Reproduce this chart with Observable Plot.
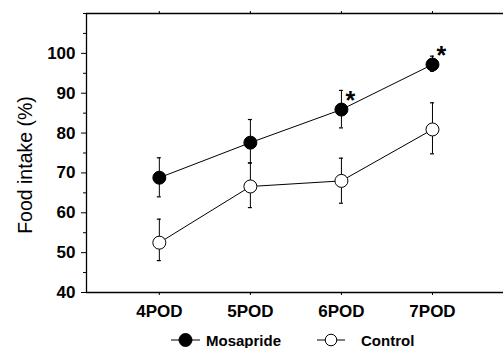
<!DOCTYPE html>
<html>
<head>
<meta charset="utf-8">
<script src="https://cdn.jsdelivr.net/npm/d3@7"></script>
<script src="https://cdn.jsdelivr.net/npm/@observablehq/plot@0.6"></script>
<style>
  html, body { margin: 0; padding: 0; background: #fff; }
  body { width: 503px; height: 348px; overflow: hidden; font-family: "Liberation Sans", Arial, sans-serif; }
  #legend { display: flex; align-items: center; height: 16px; padding-left: 171px; font-weight: bold; font-size: 15px; color: #000; }
  #legend svg { display: block; }
  #chart g[aria-label="y-axis label"] text { font-size: 19.5px; font-weight: normal; }
  #chart g[aria-label="y-axis tick label"] text,
  #chart g[aria-label="x-axis tick label"] text { font-size: 17px; font-weight: bold; }
</style>
</head>
<body>
<div id="chart"></div>
<div id="legend"></div>
<script>
const days = [4, 5, 6, 7];
const dayLabels = ["4POD", "5POD", "6POD", "7POD"];
const mosapride = [68.8, 77.6, 85.9, 97.2];
const mosaprideLo = [64.0, 72.5, 81.3, 95.5];
const mosaprideHi = [73.8, 83.4, 90.7, 99.3];
const control = [52.5, 66.6, 68.0, 80.9];
const controlLo = [48.0, 61.3, 62.4, 74.8];
const controlHi = [58.4, 72.5, 73.7, 87.6];
const significant = [false, false, true, true];
const seriesNames = ["Mosapride", "Control"];
const yTicks = [40, 50, 60, 70, 80, 90, 100];
const yMinorTicks = [45, 55, 65, 75, 85, 95, 105, 110];

const rows = [];
days.forEach((d, i) => {
  rows.push({series: seriesNames[0], day: d, v: mosapride[i], lo: mosaprideLo[i], hi: mosaprideHi[i], sig: significant[i]});
});
days.forEach((d, i) => {
  rows.push({series: seriesNames[1], day: d, v: control[i], lo: controlLo[i], hi: controlHi[i], sig: false});
});
const sigRows = rows.filter(r => r.sig);

const chart = Plot.plot({
  width: 503,
  height: 332,
  marginLeft: 86,
  marginRight: 0,
  marginTop: 13,
  marginBottom: 40,
  style: {fontFamily: "'Liberation Sans', Arial, sans-serif", fontSize: "17px", color: "#000", background: "#fff"},
  x: {domain: [3.2, 7.78]},
  y: {domain: [40, 110]},
  marks: [
    Plot.ruleY([40], {stroke: "#000", strokeWidth: 1.3}),
    Plot.ruleY([110], {stroke: "#000", strokeWidth: 1.3}),
    Plot.ruleX([3.2], {stroke: "#000", strokeWidth: 1.3}),
    Plot.axisY({ticks: yTicks, tickSize: 5, tickPadding: 6, label: "Food intake (%)", labelAnchor: "center", labelArrow: false, labelOffset: 68}),
    Plot.axisY({ticks: yMinorTicks, tickSize: 3, text: null, label: null}),
    Plot.axisX({ticks: days, tickFormat: (d) => dayLabels[days.indexOf(d)], tickSize: 3, tickPadding: 9, label: null}),
    Plot.axisX({anchor: "top", ticks: days, tickSize: 3, text: null, label: null}),
    Plot.ruleX(rows, {x: "day", y1: "lo", y2: "hi", stroke: "#000", strokeWidth: 1}),
    Plot.ruleY(rows, {y: "lo", x1: "day", x2: "day", insetLeft: -2, insetRight: -2, stroke: "#000", strokeWidth: 1.2}),
    Plot.ruleY(rows, {y: "hi", x1: "day", x2: "day", insetLeft: -2, insetRight: -2, stroke: "#000", strokeWidth: 1.2}),
    Plot.line(rows, {x: "day", y: "v", z: "series", stroke: "#000", strokeWidth: 1}),
    Plot.dot(rows, {x: "day", y: "v", r: 6.5, stroke: "#000", strokeWidth: 1, fill: (d) => d.series === seriesNames[0] ? "#000" : "#fff"}),
    Plot.text(sigRows, {x: "day", y: "v", text: () => "*", dx: 9, dy: -9, fontSize: 25, fontWeight: "bold", fill: "#000"})
  ]
});
document.getElementById("chart").appendChild(chart);
const yLabelG = chart.querySelector('g[aria-label="y-axis label"]');
if (yLabelG) {
  const t = yLabelG.getAttribute("transform") || "";
  yLabelG.setAttribute("transform", t + " translate(0,12)");
}

const legend = document.getElementById("legend");
legend.innerHTML =
  `<svg width="29" height="16"><line x1="0" y1="8" x2="29" y2="8" stroke="#000" stroke-width="1"/><circle cx="14.5" cy="8" r="6.5" fill="#000" stroke="#000"/></svg>` +
  `<span style="margin-left:6px">${seriesNames[0]}</span>` +
  `<svg width="28" height="16" style="margin-left:36px"><line x1="0" y1="8" x2="28" y2="8" stroke="#000" stroke-width="1"/><circle cx="14" cy="8" r="5.8" fill="#fff" stroke="#000"/></svg>` +
  `<span style="margin-left:16px">${seriesNames[1]}</span>`;
</script>
</body>
</html>
